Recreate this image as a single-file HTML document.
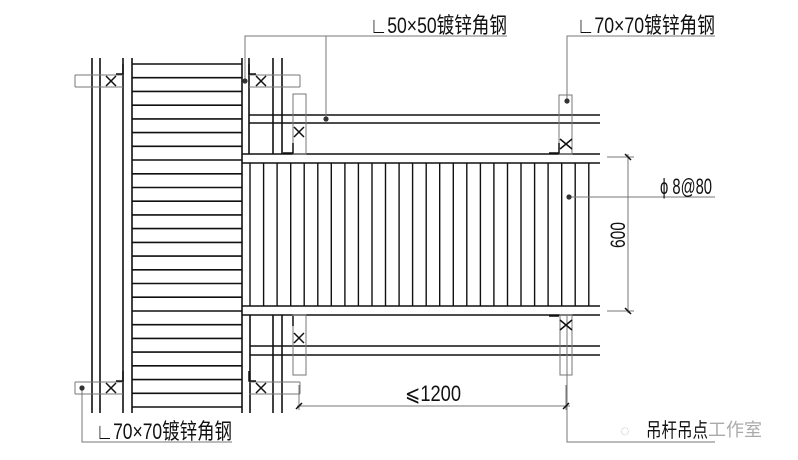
<!DOCTYPE html>
<html><head><meta charset="utf-8"><style>
html,body{margin:0;padding:0;background:#fff;}
svg{display:block;}
text{font-family:"Liberation Sans","Noto Sans CJK SC",sans-serif;fill:#111;}
</style></head><body>
<svg width="798" height="460" viewBox="0 0 798 460" xmlns="http://www.w3.org/2000/svg">
<g stroke="#111" stroke-width="1.6" fill="none">
<line x1="92" y1="58" x2="92" y2="413"/>
<line x1="100" y1="58" x2="100" y2="413"/>
<line x1="123" y1="58" x2="123" y2="413"/>
<line x1="132" y1="58" x2="132" y2="413"/>
<line x1="242" y1="58" x2="242" y2="413"/>
<line x1="249" y1="58" x2="249" y2="154"/>
<line x1="273" y1="58" x2="273" y2="154"/>
<line x1="282" y1="58" x2="282" y2="154"/>
<line x1="250" y1="315" x2="250" y2="413"/>
<line x1="273" y1="315" x2="273" y2="413"/>
<line x1="282" y1="315" x2="282" y2="413"/>
<g>
<line x1="132" y1="64" x2="242" y2="64"/><line x1="132" y1="77.7" x2="242" y2="77.7"/><line x1="132" y1="91.4" x2="242" y2="91.4"/><line x1="132" y1="105.2" x2="242" y2="105.2"/><line x1="132" y1="118.9" x2="242" y2="118.9"/><line x1="132" y1="132.6" x2="242" y2="132.6"/><line x1="132" y1="146.3" x2="242" y2="146.3"/><line x1="132" y1="160" x2="242" y2="160"/><line x1="132" y1="173.8" x2="242" y2="173.8"/><line x1="132" y1="187.5" x2="242" y2="187.5"/><line x1="132" y1="201.2" x2="242" y2="201.2"/><line x1="132" y1="214.9" x2="242" y2="214.9"/><line x1="132" y1="228.6" x2="242" y2="228.6"/><line x1="132" y1="242.4" x2="242" y2="242.4"/><line x1="132" y1="256.1" x2="242" y2="256.1"/><line x1="132" y1="269.8" x2="242" y2="269.8"/><line x1="132" y1="283.5" x2="242" y2="283.5"/><line x1="132" y1="297.2" x2="242" y2="297.2"/><line x1="132" y1="311" x2="242" y2="311"/><line x1="132" y1="324.7" x2="242" y2="324.7"/><line x1="132" y1="338.4" x2="242" y2="338.4"/><line x1="132" y1="352.1" x2="242" y2="352.1"/><line x1="132" y1="365.8" x2="242" y2="365.8"/><line x1="132" y1="379.6" x2="242" y2="379.6"/><line x1="132" y1="393.3" x2="242" y2="393.3"/><line x1="132" y1="407" x2="242" y2="407"/>
</g>
<line x1="249" y1="115" x2="600" y2="115"/>
<line x1="249" y1="123" x2="600" y2="123"/>
<line x1="242" y1="154" x2="600" y2="154"/>
<line x1="242" y1="163" x2="600" y2="163"/>
<line x1="242" y1="306" x2="600" y2="306"/>
<line x1="242" y1="315" x2="600" y2="315"/>
<line x1="250" y1="346" x2="600" y2="346"/>
<line x1="250" y1="355" x2="600" y2="355"/>
<g stroke-width="1.4">
<line x1="250" y1="163" x2="250" y2="306"/><line x1="263.6" y1="163" x2="263.6" y2="306"/><line x1="277.1" y1="163" x2="277.1" y2="306"/><line x1="290.7" y1="163" x2="290.7" y2="306"/><line x1="304.2" y1="163" x2="304.2" y2="306"/><line x1="317.8" y1="163" x2="317.8" y2="306"/><line x1="331.3" y1="163" x2="331.3" y2="306"/><line x1="344.9" y1="163" x2="344.9" y2="306"/><line x1="358.4" y1="163" x2="358.4" y2="306"/><line x1="372" y1="163" x2="372" y2="306"/><line x1="385.5" y1="163" x2="385.5" y2="306"/><line x1="399.1" y1="163" x2="399.1" y2="306"/><line x1="412.6" y1="163" x2="412.6" y2="306"/><line x1="426.2" y1="163" x2="426.2" y2="306"/><line x1="439.7" y1="163" x2="439.7" y2="306"/><line x1="453.3" y1="163" x2="453.3" y2="306"/><line x1="466.8" y1="163" x2="466.8" y2="306"/><line x1="480.4" y1="163" x2="480.4" y2="306"/><line x1="493.9" y1="163" x2="493.9" y2="306"/><line x1="507.5" y1="163" x2="507.5" y2="306"/><line x1="521" y1="163" x2="521" y2="306"/><line x1="534.6" y1="163" x2="534.6" y2="306"/><line x1="548.1" y1="163" x2="548.1" y2="306"/><line x1="561.7" y1="163" x2="561.7" y2="306"/><line x1="575.2" y1="163" x2="575.2" y2="306"/><line x1="588.8" y1="163" x2="588.8" y2="306"/>
</g>
</g>
<g stroke="#777" stroke-width="1" fill="none">
<line x1="75" y1="75" x2="123" y2="75"/><line x1="75" y1="87" x2="123" y2="87"/><line x1="75" y1="75" x2="75" y2="87"/>
<line x1="249" y1="75" x2="300" y2="75"/><line x1="249" y1="87" x2="300" y2="87"/><line x1="300" y1="75" x2="300" y2="87"/>
<line x1="75" y1="382" x2="123" y2="382"/><line x1="75" y1="394" x2="123" y2="394"/><line x1="75" y1="382" x2="75" y2="394"/>
<line x1="249" y1="382" x2="300" y2="382"/><line x1="249" y1="394" x2="300" y2="394"/><line x1="300" y1="382" x2="300" y2="394"/>
<rect x="293" y="94" width="13" height="60"/>
<rect x="293" y="315" width="13" height="60"/>
<rect x="559" y="95" width="13" height="59"/>
<rect x="560" y="315" width="12" height="60"/>
<polyline points="245,81 245,36 507,36"/>
<line x1="326" y1="36" x2="326" y2="119"/>
<polyline points="567,101 567,36 715,36"/>
<line x1="569" y1="197" x2="715" y2="197"/>
<polyline points="82,388 82,442 232,442"/>
<polyline points="567,315 567,442 715,442"/>
<line x1="628" y1="154" x2="628" y2="313"/>
<line x1="607" y1="157" x2="634" y2="157"/>
<line x1="607" y1="311" x2="634" y2="311"/>
<line x1="297" y1="406" x2="570" y2="406"/>
<line x1="299" y1="385" x2="299" y2="410"/>
<line x1="566" y1="385" x2="566" y2="410"/>
</g>
<g stroke="#111" stroke-width="1.5">
<line x1="625" y1="154" x2="631" y2="160"/><line x1="625" y1="308" x2="631" y2="314"/>
<line x1="296" y1="409" x2="302" y2="403"/><line x1="563" y1="409" x2="569" y2="403"/>
<path d="M106 76 L116 86 M116 76 L106 86"/>
<path d="M256 76 L266 86 M266 76 L256 86"/>
<path d="M106 383 L116 393 M116 383 L106 393"/>
<path d="M256 383 L266 393 M266 383 L256 393"/>
<path d="M294 127 L304 137 M304 127 L294 137"/>
<path d="M294 333 L304 343 M304 333 L294 343"/>
<path d="M560 139 L572 149 M572 139 L560 149"/>
<path d="M560 320 L572 330 M572 320 L560 330"/>
<path d="M123 64 V74 H116" fill="none"/>
<path d="M249 64 V74 H256" fill="none"/>
<path d="M123 371 V381 H116" fill="none"/>
<path d="M249 371 V381 H256" fill="none"/>
<path d="M293 143 V153 H283" fill="none"/>
<path d="M293 316 V326" fill="none"/>
<path d="M559 143 V153 H549" fill="none"/>
<path d="M559 316 H549" fill="none"/>
</g>
<g fill="#333">
<circle cx="245" cy="81" r="2.6"/><circle cx="326" cy="119" r="2.6"/>
<circle cx="567" cy="101" r="2.6"/><circle cx="569" cy="197" r="2.6"/>
<circle cx="82" cy="388" r="2.6"/>
</g>
<g>
<text x="370" y="33" font-size="22" textLength="137" lengthAdjust="spacingAndGlyphs">∟50×50镀锌角钢</text>
<text x="577" y="33" font-size="22" textLength="138" lengthAdjust="spacingAndGlyphs">∟70×70镀锌角钢</text>
<text x="96" y="439" font-size="22" textLength="136" lengthAdjust="spacingAndGlyphs">∟70×70镀锌角钢</text>
<text x="660" y="194" font-size="22" textLength="52" lengthAdjust="spacingAndGlyphs">ϕ 8@80</text>
<text x="405" y="401" font-size="22" textLength="56" lengthAdjust="spacingAndGlyphs">⩽1200</text>
<text transform="translate(625,235) rotate(-90)" font-size="21" text-anchor="middle" textLength="26" lengthAdjust="spacingAndGlyphs">600</text>
<text x="646" y="437" font-size="20" textLength="62" lengthAdjust="spacingAndGlyphs">吊杆吊点</text>
</g>
<text x="708" y="436" font-size="18" style="fill:#aaa">工作室</text>
<text x="620" y="436" font-size="16" style="fill:#bbb">◌</text>
</svg>
</body></html>
